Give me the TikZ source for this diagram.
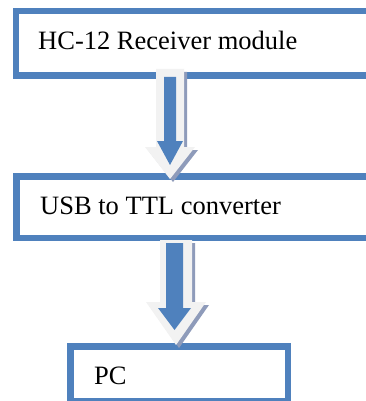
\documentclass[tikz,border=0pt]{standalone}
\usepackage{fontspec}
\setmainfont{Liberation Serif}
\definecolor{boxblue}{HTML}{4F81BD}
\definecolor{arrowlight}{HTML}{F2F2F2}
\definecolor{arrowshadow}{HTML}{8E9BBA}
\begin{document}
\begin{tikzpicture}[x=1pt,y=-1pt,
  blockbox/.style={draw=boxblue,line width=6.5pt,fill=white,rectangle,inner sep=0pt},
  lbl/.style={anchor=base west,inner sep=0pt,font=\fontsize{26.5}{30}\selectfont},
  outerarrow/.style={fill=arrowlight},
  shadowarrow/.style={fill=arrowshadow},
  innerarrow/.style={fill=boxblue}]
\useasboundingbox (0,0) rectangle (366,401);
\clip (0,0) rectangle (366,401);
% boxes
\node[blockbox,minimum width=364pt,minimum height=64.5pt] (b1) at (198,43.5) {};
\node[blockbox,minimum width=364pt,minimum height=61.5pt] (b2) at (198.25,207) {};
\node[blockbox,minimum width=217.5pt,minimum height=55pt] (b3) at (179,373.75) {};
\node[lbl] (t1) at (38,50) {HC-12 Receiver module};
\node[lbl] (t2) at (40,214) {USB to TTL converter};
\node[lbl] (t3) at (94,384) {PC};
% arrow 1
\fill[shadowarrow,shift={(3,3)}] (156,69) -- (184,69) -- (184,147) -- (195,147) -- (170,179) -- (145,147) -- (156,147) -- cycle;
\fill[outerarrow] (156,69) -- (184,69) -- (184,147) -- (195,147) -- (170,179) -- (145,147) -- (156,147) -- cycle;
\fill[innerarrow] (164,77) -- (176,77) -- (176,141) -- (183,141) -- (170,165) -- (157,141) -- (164,141) -- cycle;
% arrow 2
\fill[shadowarrow,shift={(3,3)}] (160,240) -- (192,240) -- (192,302) -- (206,302) -- (176,345) -- (146,302) -- (160,302) -- cycle;
\fill[outerarrow] (160,240) -- (192,240) -- (192,302) -- (206,302) -- (176,345) -- (146,302) -- (160,302) -- cycle;
\fill[innerarrow] (166,243) -- (183,243) -- (183,308) -- (191,308) -- (174.5,330) -- (158,308) -- (166,308) -- cycle;
\end{tikzpicture}
\end{document}
